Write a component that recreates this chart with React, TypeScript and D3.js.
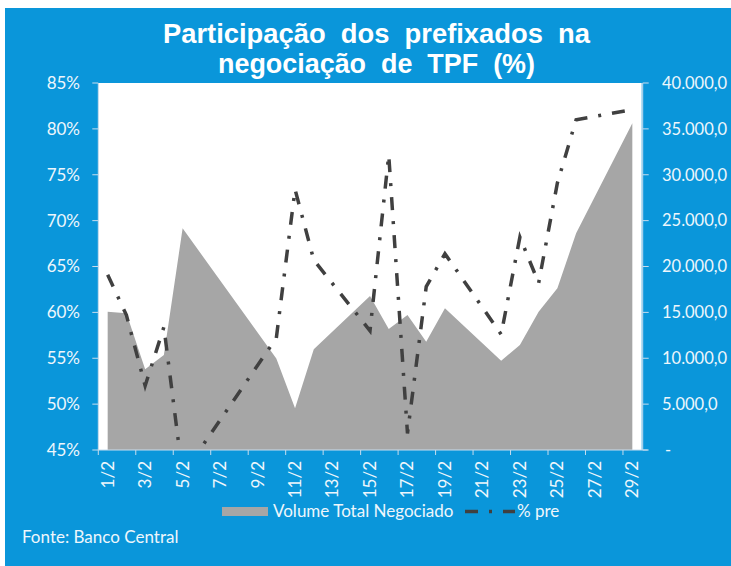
import { useMemo } from 'react';
import * as d3 from 'd3';

// Fevereiro: dias sem negociação (fim de semana / carnaval) ficam null
const days = [
  '1/2', '2/2', '3/2', '4/2', '5/2', '6/2', '7/2', '8/2', '9/2', '10/2',
  '11/2', '12/2', '13/2', '14/2', '15/2', '16/2', '17/2', '18/2', '19/2', '20/2',
  '21/2', '22/2', '23/2', '24/2', '25/2', '26/2', '27/2', '28/2', '29/2',
];

const volume: Array<number | null> = [
  15070, 14900, 8800, 10350, 24160, null, null, null, null, 9980,
  4540, 10970, null, null, 16780, 13190, 14710, 11800, 15440, null,
  null, 9740, 11440, 15070, 17620, 23620, null, null, 35610,
];

const pctPre: Array<number | null> = [
  64.1, 59.7, 52.0, 58.4, 42.3, null, null, null, null, 57.2,
  73.4, 65.7, null, null, 58.0, 77.15, 46.8, 62.8, 66.4, null,
  null, 57.6, 68.2, 63.2, 74.1, 81.0, null, null, 82.1,
];

const leftTicks = [45, 50, 55, 60, 65, 70, 75, 80, 85];
const rightTicks = [0, 5000, 10000, 15000, 20000, 25000, 30000, 35000, 40000];

const W = 731;
const H = 566;
const plot = { left: 98.3, right: 641.7, top: 83, bottom: 450 };
const BLUE = '#0a96da';
const LABEL = '#eef6fc';
const AXIS = '#c9dced';
const FONT = 'Lato, "Open Sans", sans-serif';
const DASH = '13 11 3 11';

const fmtRight = (v: number) =>
  v === 0 ? '-' : d3.format(',.1f')(v).replace(/,/g, 'X').replace('.', ',').replace(/X/g, '.');

export default function App() {
  const x = useMemo(
    () => d3.scaleBand<string>().domain(days).range([plot.left, plot.right]).padding(0),
    [],
  );
  const cx = (d: string) => (x(d) ?? 0) + x.bandwidth() / 2;
  const yL = d3.scaleLinear().domain([45, 85]).range([plot.bottom, plot.top]);
  const yR = d3.scaleLinear().domain([0, 40000]).range([plot.bottom, plot.top]);

  const volPts = days
    .map((d, i) => ({ d, v: volume[i] }))
    .filter((p): p is { d: string; v: number } => p.v !== null);
  const prePts = days
    .map((d, i) => ({ d, v: pctPre[i] }))
    .filter((p): p is { d: string; v: number } => p.v !== null);

  const areaPath =
    d3
      .area<{ d: string; v: number }>()
      .x((p) => cx(p.d))
      .y0(yR(0))
      .y1((p) => yR(p.v))(volPts) ?? '';

  const linePath =
    d3
      .line<{ d: string; v: number }>()
      .x((p) => cx(p.d))
      .y((p) => yL(p.v))(prePts) ?? '';

  const boundaryTicks = d3.range(0, days.length, 2).map((i) => plot.left + i * x.bandwidth());

  return (
    <svg
      width={W}
      height={H}
      viewBox={`0 0 ${W} ${H}`}
      style={{ position: 'absolute', left: 0, top: 0 }}
    >
      <defs>
        <clipPath id="plotClip">
          <rect x={plot.left} y={plot.top} width={plot.right - plot.left} height={plot.bottom - plot.top} />
        </clipPath>
      </defs>
      <rect x={0} y={0} width={W} height={H} fill="#fff" />
      <rect x={5} y={8} width={W - 5} height={H - 8} fill={BLUE} />

      {/* titulo */}
      <g
        fill="#fff"
        fontFamily='"Liberation Sans", Arial, sans-serif'
        fontWeight="bold"
        fontSize={28}
        textAnchor="middle"
      >
        <text x={376.5} y={43} textLength={427} lengthAdjust="spacingAndGlyphs" xmlSpace="preserve" style={{ whiteSpace: 'pre' }}>
          {'Participação  dos  prefixados  na'}
        </text>
        <text x={376.5} y={73} textLength={317} lengthAdjust="spacingAndGlyphs" xmlSpace="preserve" style={{ whiteSpace: 'pre' }}>
          {'negociação  de  TPF  (%)'}
        </text>
      </g>

      <rect x={plot.left} y={plot.top} width={plot.right - plot.left} height={plot.bottom - plot.top} fill="#fff" />

      <g clipPath="url(#plotClip)">
        <path d={areaPath} fill="#a6a6a6" />
        <path d={linePath} fill="none" stroke="#404040" strokeWidth={3.5} strokeDasharray={DASH} />
      </g>

      {/* eixos */}
      <g stroke={AXIS} strokeWidth={1}>
        <line x1={plot.left} x2={plot.left} y1={plot.top} y2={plot.bottom} />
        <line x1={plot.right + 1} x2={plot.right + 1} y1={plot.top} y2={plot.bottom} />
        <line x1={plot.left} x2={plot.right + 6} y1={plot.bottom} y2={plot.bottom} />
        {leftTicks.map((t) => (
          <line key={t} x1={plot.left - 6} x2={plot.left} y1={yL(t)} y2={yL(t)} />
        ))}
        {rightTicks.map((t) => (
          <line key={t} x1={plot.right + 1} x2={plot.right + 7} y1={yR(t)} y2={yR(t)} />
        ))}
        {boundaryTicks.map((t) => (
          <line key={t} x1={t} x2={t} y1={plot.bottom} y2={plot.bottom + 5} />
        ))}
      </g>

      <g fill={LABEL} fontFamily={FONT} fontSize={17}>
        {leftTicks.map((t) => (
          <text key={t} x={80} y={yL(t)} dy="0.35em" textAnchor="end">
            {t}%
          </text>
        ))}
        {rightTicks.map((t) => (
          <text key={t} x={t === 0 ? 665 : 662} y={yR(t)} dy="0.35em" fontSize={16.5}>
            {fmtRight(t)}
          </text>
        ))}
        {days
          .filter((_, i) => i % 2 === 0)
          .map((d) => (
            <text
              key={d}
              transform={`translate(${cx(d)},461) rotate(-90)`}
              dy="0.35em"
              textAnchor="end"
            >
              {d}
            </text>
          ))}
      </g>

      {/* legenda */}
      <rect x={222} y={507} width={46} height={9} fill="#a6a6a6" />
      <line x1={465} x2={515} y1={511.5} y2={511.5} stroke="#404040" strokeWidth={3.5} strokeDasharray={DASH} />
      <g fill={LABEL} fontFamily={FONT} fontSize={17}>
        <text x={273} y={517}>Volume Total Negociado</text>
        <text x={517} y={517}>% pre</text>
        <text x={22} y={543}>Fonte: Banco Central</text>
      </g>
    </svg>
  );
}
